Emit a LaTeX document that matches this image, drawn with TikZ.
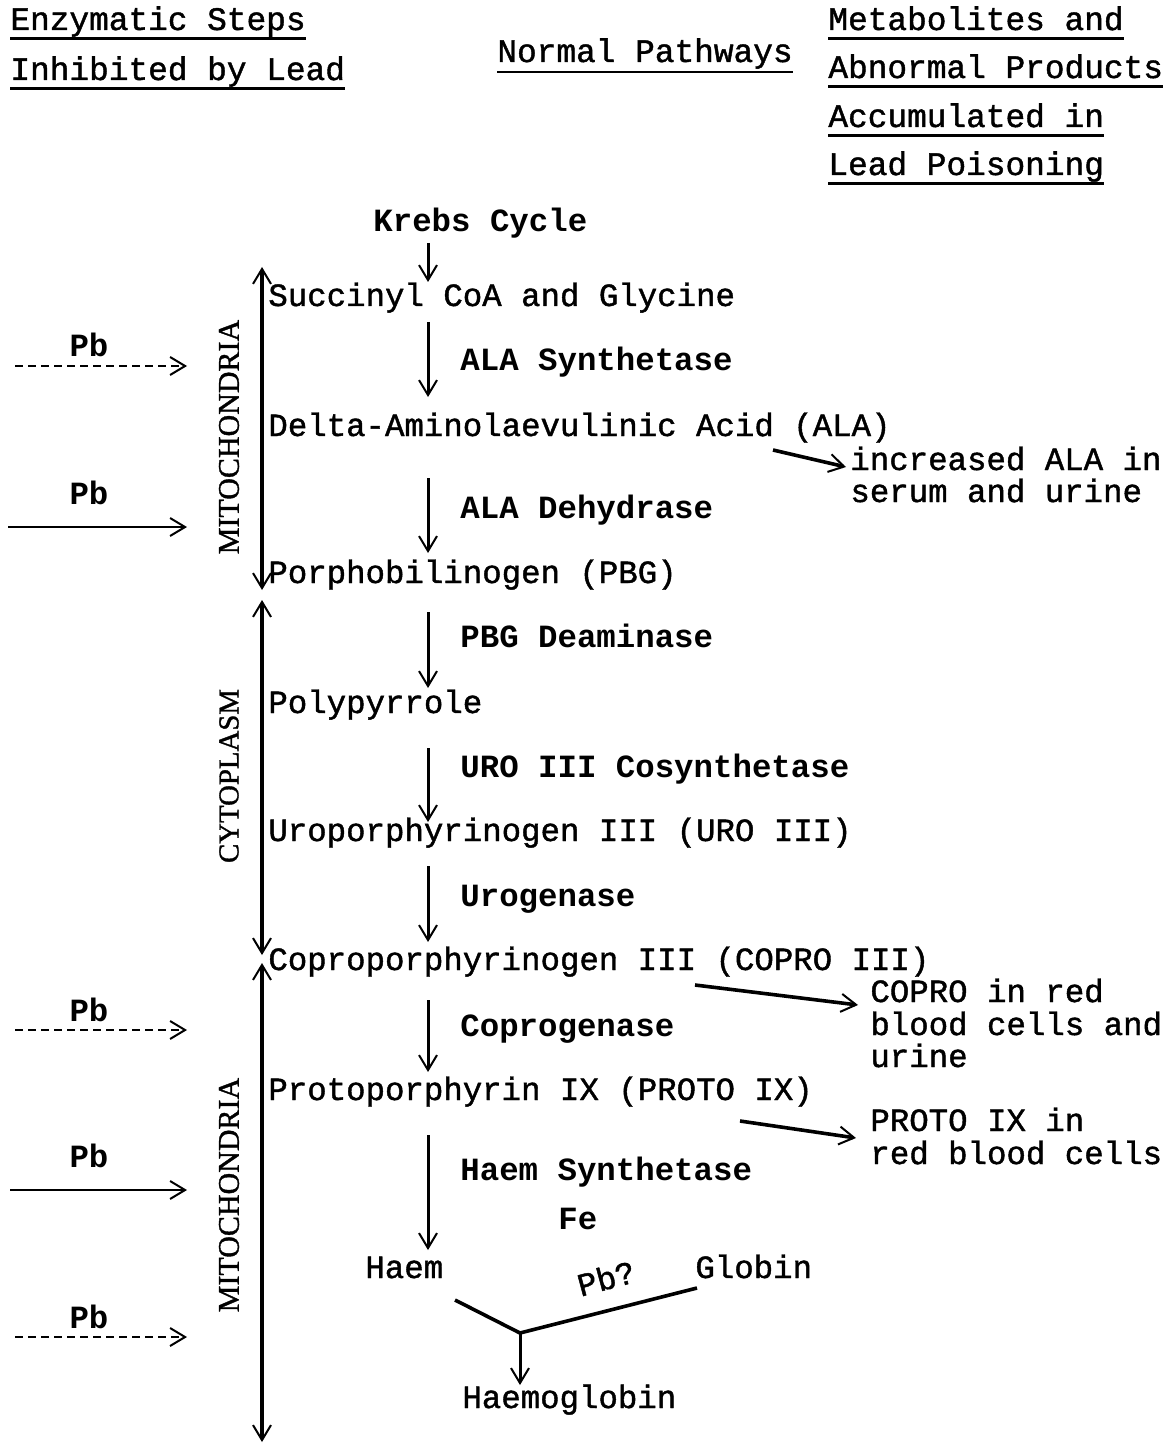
\documentclass[tikz,border=0pt]{standalone}
\usepackage{fontspec}
\setmonofont{Liberation Mono}
\newfontfamily\twmed{Liberation Mono}[FakeBold=1.3]
\newfontfamily\labelserif{Liberation Serif}[FakeBold=1.2]
\usetikzlibrary{arrows.meta}
\begin{document}
\begin{tikzpicture}[x=0.5pt,y=-0.5pt,
  tw/.style={font=\twmed\fontsize{16.2}{19}\selectfont, inner sep=0pt, anchor=base west},
  twb/.style={font=\ttfamily\bfseries\fontsize{16.2}{19}\selectfont, inner sep=0pt, anchor=base west},
  hd/.style={font=\twmed\fontsize{16.4}{19}\selectfont, inner sep=0pt, anchor=base west},
  pbl/.style={font=\ttfamily\bfseries\fontsize{16.2}{19}\selectfont, inner sep=0pt, anchor=base},
  comp/.style={font=\labelserif\fontsize{15}{18}\selectfont, inner sep=0pt, rotate=90},
  ul/.style={line width=1.4pt},
  tipV/.tip={Straight Barb[length=7.5pt,width=9pt,line width=1pt]},
  arr/.style={line width=1.5pt, -tipV},
  side/.style={line width=1.8pt, -tipV},
  pbsolid/.style={line width=1.1pt, -tipV},
  pbdash/.style={line width=1.1pt, dash pattern=on 4pt off 2.5pt, -tipV},
  wall/.style={line width=1.6pt, tipV-tipV},
  jn/.style={line width=1.8pt}
]
\useasboundingbox (0,0) rectangle (1164,1444);

% headers
\node[hd] (h1) at (10,30) {Enzymatic Steps};
\node[hd] (h2) at (10,80) {Inhibited by Lead};
\node[hd] (h3) at (497,62) {Normal Pathways};
\node[hd] (h4) at (828,30) {Metabolites and};
\node[hd] (h5) at (828,78) {Abnormal Products};
\node[hd] (h6) at (828,127) {Accumulated in};
\node[hd] (h7) at (828,175) {Lead Poisoning};
\foreach \h in {h1,h2,h4,h5,h6,h7}
  \draw[ul] ([yshift=-4.3pt]\h.base west) -- ([yshift=-4.3pt]\h.base east);
\draw[ul] ([yshift=-5pt]h3.base west) -- ([yshift=-5pt]h3.base east);

% main pathway
\node[twb] (krebs) at (373,232) {Krebs Cycle};
\node[tw] (succ) at (268,306) {Succinyl CoA and Glycine};
\node[tw] (ala) at (268,436) {Delta-Aminolaevulinic Acid (ALA)};
\node[tw] (pbg) at (268,583) {Porphobilinogen (PBG)};
\node[tw] (poly) at (268,713) {Polypyrrole};
\node[tw] (uro) at (268,841) {Uroporphyrinogen III (URO III)};
\node[tw] (copro) at (268,970) {Coproporphyrinogen III (COPRO III)};
\node[tw] (proto) at (268,1100) {Protoporphyrin IX (PROTO IX)};
\node[tw] (haem) at (365,1278) {Haem};
\node[tw] (globin) at (695,1278) {Globin};
\node[tw] (hb) at (462,1408) {Haemoglobin};

% enzymes
\node[twb] (e1) at (460,371) {ALA Synthetase};
\node[twb] (e2) at (460,518) {ALA Dehydrase};
\node[twb] (e3) at (460,647) {PBG Deaminase};
\node[twb] (e4) at (460,777) {URO III Cosynthetase};
\node[twb] (e5) at (460,906) {Urogenase};
\node[twb] (e6) at (460,1036) {Coprogenase};
\node[twb] (e7) at (460,1180) {Haem Synthetase};
\node[twb] (fe) at (558,1229) {Fe};
\node[tw, anchor=center, rotate=15] (pbq) at (606,1278) {Pb?};

% side products
\node[tw] (s1a) at (850,470) {increased ALA in};
\node[tw] (s1b) at (850,502) {serum and urine};
\node[tw] (s2a) at (870,1002) {COPRO in red};
\node[tw] (s2b) at (870,1035) {blood cells and};
\node[tw] (s2c) at (870,1067) {urine};
\node[tw] (s3a) at (870,1131) {PROTO IX in};
\node[tw] (s3b) at (870,1164) {red blood cells};

% main arrows
\coordinate (a0s) at (428,243);  \coordinate (a0e) at (428,282);
\coordinate (a1s) at (428,322);  \coordinate (a1e) at (428,397);
\coordinate (a2s) at (428,478);  \coordinate (a2e) at (428,553);
\coordinate (a3s) at (428,612);  \coordinate (a3e) at (428,688);
\coordinate (a4s) at (428,748);  \coordinate (a4e) at (428,822);
\coordinate (a5s) at (428,866);  \coordinate (a5e) at (428,942);
\coordinate (a6s) at (428,1000); \coordinate (a6e) at (428,1072);
\coordinate (a7s) at (428,1135); \coordinate (a7e) at (428,1250);
\foreach \i in {0,...,7} \draw[arr] (a\i s) -- (a\i e);

% side arrows
\coordinate (b1s) at (773,450);  \coordinate (b1e) at (846,467);
\coordinate (b2s) at (695,985);  \coordinate (b2e) at (858,1005);
\coordinate (b3s) at (740,1121); \coordinate (b3e) at (856,1138);
\draw[side] (b1s) -- (b1e);
\draw[side] (b2s) -- (b2e);
\draw[side] (b3s) -- (b3e);

% haem + globin -> haemoglobin
\coordinate (j) at (520,1333);
\coordinate (hs) at (455,1300);
\coordinate (gs) at (697,1288);
\coordinate (je) at (520,1385);
\draw[jn] (hs) -- (j);
\draw[jn] (gs) -- (j);
\draw[arr] (j) -- (je);

% compartments
\coordinate (w1t) at (262,267);  \coordinate (w1b) at (262,590);
\coordinate (w2t) at (262,600);  \coordinate (w2b) at (262,955);
\coordinate (w3t) at (262,963);  \coordinate (w3b) at (262,1442);
\draw[wall] (w1t) -- (w1b);
\draw[wall] (w2t) -- (w2b);
\draw[wall] (w3t) -- (w3b);
\node[comp] (m1) at (229,437) {MITOCHONDRIA};
\node[comp, font=\labelserif\fontsize{14.4}{18}\selectfont] (cy) at (229,776) {CYTOPLASM};
\node[comp] (m2) at (229,1195) {MITOCHONDRIA};

% Pb inhibitions
\node[pbl] (pb1) at (89,357) {Pb};
\node[pbl] (pb2) at (89,504) {Pb};
\node[pbl] (pb3) at (89,1021) {Pb};
\node[pbl] (pb4) at (89,1167) {Pb};
\node[pbl] (pb5) at (89,1328) {Pb};
\coordinate (p1s) at (15,366);  \coordinate (p1e) at (187,366);
\coordinate (p2s) at (8,527);   \coordinate (p2e) at (187,527);
\coordinate (p3s) at (15,1030); \coordinate (p3e) at (187,1030);
\coordinate (p4s) at (10,1190); \coordinate (p4e) at (187,1190);
\coordinate (p5s) at (15,1337); \coordinate (p5e) at (187,1337);
\draw[pbdash] (p1s) -- (p1e);
\draw[pbsolid] (p2s) -- (p2e);
\draw[pbdash] (p3s) -- (p3e);
\draw[pbsolid] (p4s) -- (p4e);
\draw[pbdash] (p5s) -- (p5e);
\end{tikzpicture}
\end{document}
